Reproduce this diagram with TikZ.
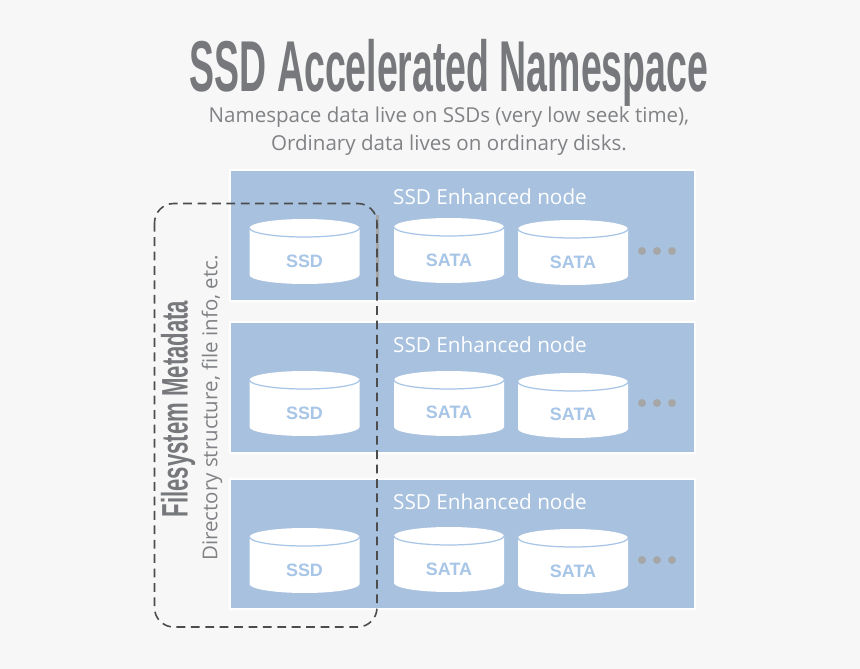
\documentclass[tikz,border=0pt]{standalone}
\usepackage{fontspec}
\setmainfont{Open Sans}
\newfontfamily\titlefont{Liberation Sans}
\definecolor{nodeblue}{HTML}{A7C1DF}
\definecolor{diskline}{HTML}{A7C5E6}
\definecolor{titlegray}{HTML}{77787B}
\definecolor{textgray}{HTML}{808285}
\definecolor{pagegray}{HTML}{F7F7F7}
\definecolor{dotgray}{HTML}{A6A6A6}
\tikzset{
    nodebox/.style={draw=white, line width=1pt, fill=nodeblue},
    nodelabel/.style={text=white, font=\fontsize{11.8}{14}\selectfont},
    disklabel/.style={text=diskline, font=\fontsize{10.2}{12}\selectfont\titlefont\bfseries},
    bigtitle/.style={text=titlegray, font=\fontsize{41}{43}\selectfont\titlefont\bfseries, xscale=0.52, transform shape},
    sidetitle/.style={text=titlegray, font=\fontsize{21}{23}\selectfont\titlefont\bfseries, xscale=0.6, transform shape},
    subtitle/.style={text=textgray, font=\fontsize{11.7}{14}\selectfont},
    moredot/.style={circle, fill=dotgray, inner sep=0pt, minimum size=4.5pt},
    pics/disk/.style={code={
        \fill[white] (-55,9) -- (-55,56) arc[x radius=55, y radius=9, start angle=180, end angle=0] -- (55,9) -- cycle;
        \fill[white] (0,9) ellipse[x radius=55, y radius=9];
        \draw[diskline, line width=0.7pt] (-55,9) arc[x radius=55, y radius=9, start angle=180, end angle=0];
    }},
}
\begin{document}
\begin{tikzpicture}[x=0.02cm, y=-0.02cm]
    \useasboundingbox[fill=pagegray] (0,0) rectangle (860,669);

    % Title
    \node[bigtitle] (title) at (449,73) {SSD Accelerated Namespace};
    \node[subtitle] (subone) at (449,117.5) {Namespace data live on SSDs (very low seek time),};
    \node[subtitle] (subtwo) at (449,145.5) {Ordinary data lives on ordinary disks.};

    % Node boxes
    \draw[nodebox] (230,170.2) rectangle (695,301);
    \draw[nodebox] (230,322.2) rectangle (695,453);
    \draw[nodebox] (230,479.2) rectangle (695,609);

    \node[nodelabel] (nodeA) at (490,197) {SSD Enhanced node};
    \node[nodelabel] (nodeB) at (490,345) {SSD Enhanced node};
    \node[nodelabel] (nodeC) at (490,502) {SSD Enhanced node};

    % Disks, first row
    \pic at (304.5,219) {disk};
    \pic at (449,218) {disk};
    \pic at (573,220) {disk};
    \node[disklabel] (ssdA) at (304.5,261) {SSD};
    \node[disklabel] (sataA) at (449,260) {SATA};
    \node[disklabel] (sataB) at (573,262) {SATA};

    % Disks, second row
    \pic at (304.5,371) {disk};
    \pic at (449,371) {disk};
    \pic at (573,373) {disk};
    \node[disklabel] (ssdB) at (304.5,413) {SSD};
    \node[disklabel] (sataC) at (449,412) {SATA};
    \node[disklabel] (sataD) at (573,414) {SATA};

    % Disks, third row
    \pic at (304.5,528) {disk};
    \pic at (449,527) {disk};
    \pic at (573,529) {disk};
    \node[disklabel] (ssdC) at (304.5,570) {SSD};
    \node[disklabel] (sataE) at (449,569) {SATA};
    \node[disklabel] (sataF) at (573,571) {SATA};

    % Dots
    \foreach \row/\ypos in {A/251, B/403, C/560} {
        \foreach \col/\xpos in {1/642, 2/657, 3/672} {
            \node[moredot] (dot\row\col) at (\xpos,\ypos) {};
        }
    }

    % Metadata frame
    \draw[dotgray, line width=1.2pt] (377.5,215) -- (377.5,287);
    \draw[black!70, line width=0.9pt, dash pattern=on 5pt off 3.2pt, rounded corners=11pt] (154.5,203.5) rectangle (377,627);
    \node[rotate=90, sidetitle] (metatitle) at (178,409) {Filesystem Metadata};
    \node[subtitle, rotate=90, font=\fontsize{11.65}{13}\selectfont] (metatext) at (212,408) {Directory structure, file info, etc.};
\end{tikzpicture}
\end{document}
